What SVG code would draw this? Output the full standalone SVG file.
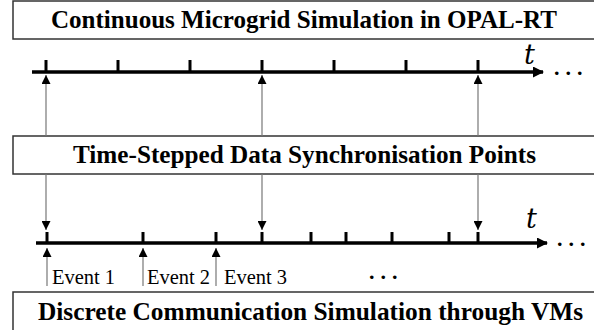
<svg xmlns="http://www.w3.org/2000/svg" width="594" height="330" viewBox="0 0 594 330">
<style>
.box{fill:#fff;stroke:#333;stroke-width:1.5}
.title{font-family:"Liberation Serif","Times New Roman",serif;font-weight:bold;font-size:25px;fill:#000}
.axis{stroke:#000;stroke-width:3.5;fill:none}
.tick{stroke:#000;stroke-width:3}
.thin{stroke:#777;stroke-width:1.2;fill:none}
.ev{font-family:"Liberation Serif","Times New Roman",serif;font-size:21px;fill:#000}
.tt{font-family:"DejaVu Serif",serif;font-style:italic;font-size:27px;fill:#000}
.dots{font-family:"Liberation Serif",serif;font-weight:bold;font-size:22px;letter-spacing:6px;fill:#000}
</style>
<defs>
<marker id="ah" viewBox="0 0 9 9" refX="9" refY="4.5" markerWidth="9" markerHeight="9" markerUnits="userSpaceOnUse" orient="auto">
<path d="M0,0 L9,4.5 L0,9 z" fill="#000"/>
</marker>
<marker id="big" viewBox="0 0 11 11" refX="10" refY="5.5" markerWidth="11" markerHeight="11" markerUnits="userSpaceOnUse" orient="auto">
<path d="M0,0 L11,5.5 L0,11 z" fill="#000"/>
</marker>
</defs>

<g id="box-opal">
<rect class="box" x="13" y="1" width="600" height="38"/>
<text class="title" x="51" y="28" textLength="506" lengthAdjust="spacingAndGlyphs">Continuous Microgrid Simulation in OPAL-RT</text>
</g>

<g id="box-sync">
<rect class="box" x="13" y="136" width="600" height="38"/>
<text class="title" x="73" y="163" textLength="463" lengthAdjust="spacingAndGlyphs">Time-Stepped Data Synchronisation Points</text>
</g>

<g id="box-vms">
<rect class="box" x="13" y="292" width="600" height="50"/>
<text class="title" x="38" y="320" textLength="545" lengthAdjust="spacingAndGlyphs">Discrete Communication Simulation through VMs</text>
</g>

<g id="axis-top">
<line class="axis" x1="32" y1="72" x2="543" y2="72" marker-end="url(#big)"/>
<line class="tick" x1="46" y1="60" x2="46" y2="72"/>
<line class="tick" x1="118" y1="60" x2="118" y2="72"/>
<line class="tick" x1="190" y1="60" x2="190" y2="72"/>
<line class="tick" x1="262" y1="60" x2="262" y2="72"/>
<line class="tick" x1="334" y1="60" x2="334" y2="72"/>
<line class="tick" x1="406" y1="60" x2="406" y2="72"/>
<line class="tick" x1="478" y1="60" x2="478" y2="72"/>
<text class="tt" x="524" y="64">t</text>
<text class="dots" x="554" y="75">...</text>
</g>

<g id="axis-bottom">
<line class="axis" x1="36" y1="243" x2="547" y2="243" marker-end="url(#big)"/>
<line class="tick" x1="47" y1="232" x2="47" y2="243"/>
<line class="tick" x1="143" y1="232" x2="143" y2="243"/>
<line class="tick" x1="216" y1="232" x2="216" y2="243"/>
<line class="tick" x1="262" y1="232" x2="262" y2="243"/>
<line class="tick" x1="311" y1="232" x2="311" y2="243"/>
<line class="tick" x1="346" y1="232" x2="346" y2="243"/>
<line class="tick" x1="392" y1="232" x2="392" y2="243"/>
<line class="tick" x1="449" y1="232" x2="449" y2="243"/>
<line class="tick" x1="478" y1="232" x2="478" y2="243"/>
<text class="tt" x="526" y="228">t</text>
<text class="dots" x="557" y="246">...</text>
</g>

<g id="events">
<text class="ev" x="52" y="284" textLength="63" lengthAdjust="spacingAndGlyphs">Event 1</text>
<text class="ev" x="147" y="284" textLength="63" lengthAdjust="spacingAndGlyphs">Event 2</text>
<text class="ev" x="224" y="284" textLength="63" lengthAdjust="spacingAndGlyphs">Event 3</text>
<text class="dots" x="369" y="279">...</text>
</g>

<g id="connectors">
<line class="thin" x1="46" y1="136" x2="46" y2="75" marker-end="url(#ah)"/>
<line class="thin" x1="262" y1="136" x2="262" y2="75" marker-end="url(#ah)"/>
<line class="thin" x1="478" y1="136" x2="478" y2="75" marker-end="url(#ah)"/>
<line class="thin" x1="46" y1="174" x2="46" y2="230" marker-end="url(#ah)"/>
<line class="thin" x1="262" y1="174" x2="262" y2="230" marker-end="url(#ah)"/>
<line class="thin" x1="478" y1="174" x2="478" y2="230" marker-end="url(#ah)"/>
<line class="thin" x1="47" y1="286" x2="47" y2="248" marker-end="url(#ah)"/>
<line class="thin" x1="143" y1="286" x2="143" y2="248" marker-end="url(#ah)"/>
<line class="thin" x1="216" y1="286" x2="216" y2="248" marker-end="url(#ah)"/>
</g>
</svg>
